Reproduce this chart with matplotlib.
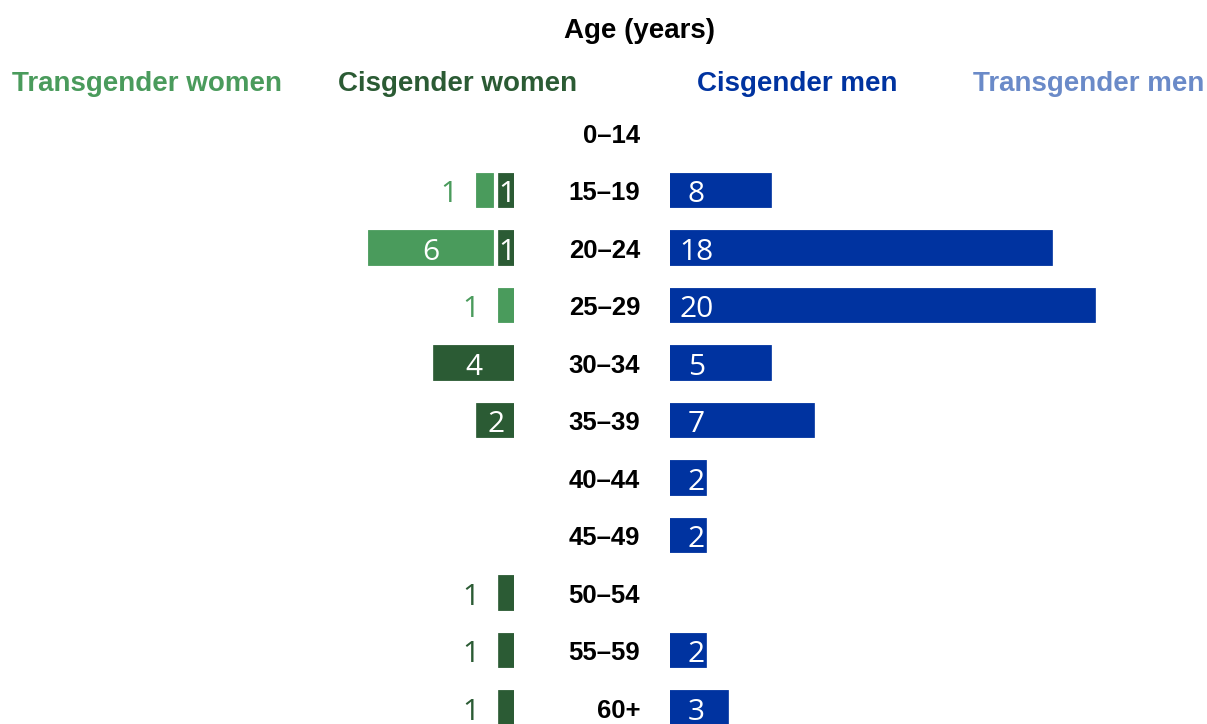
import matplotlib
matplotlib.use("Agg")
import matplotlib.pyplot as plt

ages = ['0–14', '15–19', '20–24', '25–29', '30–34', '35–39',
        '40–44', '45–49', '50–54', '55–59', '60+']
cis_women = [0, 1, 1, 0, 4, 2, 0, 0, 1, 1, 1]
trans_women = [0, 1, 6, 1, 0, 0, 0, 0, 0, 0, 0]
cis_men = [0, 5, 18, 20, 5, 7, 2, 2, 0, 2, 3]          # bar lengths as drawn
cis_men_labels = ['', '8', '18', '20', '5', '7', '2', '2', '', '2', '3']  # printed labels
trans_men = [0, 0, 0, 0, 0, 0, 0, 0, 0, 0, 0]

C_TW = '#4A9B5C'
C_CW = '#2B5B34'
C_CM = '#0033A0'
C_TM = '#6A8AC8'

HEADF = ['Liberation Sans', 'DejaVu Sans']
AGEF = ['Liberation Sans', 'DejaVu Sans']
VALF = ['Open Sans', 'DejaVu Sans']

W, H = 1207, 724
fig = plt.figure(figsize=(W / 100, H / 100), dpi=100)

scale = 21.6          # px per unit
zero_l = 517.3        # px
zero_r = 666.0
clip_l = 514
clip_r = 670
top_px = 104
y0, dy = 133, 57.5
ylo = (top_px - y0) / dy
yhi = (H - y0) / dy

axl = fig.add_axes([0, 0, clip_l / W, (H - top_px) / H])
axr = fig.add_axes([clip_r / W, 0, (W - clip_r) / W, (H - top_px) / H])
axl.set_xlim(zero_l / scale, (zero_l - clip_l) / scale)
axr.set_xlim((clip_r - zero_r) / scale, (W - zero_r) / scale)
for ax in (axl, axr):
    ax.set_ylim(yhi, ylo)
    ax.axis('off')

ys = list(range(len(ages)))
bh = 0.68
lw = 3
axl.barh(ys, cis_women, height=bh, color=C_CW, edgecolor='white', linewidth=lw)
axl.barh(ys, trans_women, left=cis_women, height=bh, color=C_TW, edgecolor='white', linewidth=lw)
axr.barh(ys, cis_men, height=bh, color=C_CM, edgecolor='white', linewidth=lw)
axr.barh(ys, trans_men, left=cis_men, height=bh, color=C_TM, edgecolor='white', linewidth=lw)

vfs = 21.5
off = 1.15
ty = 0.07
vkw = dict(ha='center', va='center', fontsize=vfs, family=VALF, fontweight='normal', clip_on=False)
for i in ys:
    c, t = cis_women[i], trans_women[i]
    if c > 0:
        if c >= 2 or t > 0:
            axl.text(c / 2, i + ty, str(c), color='white', **vkw)
        else:
            axl.text(c + off, i + ty, str(c), color=C_CW, **vkw)
    if t > 0:
        if t >= 2:
            axl.text(c + t / 2, i + ty, str(t), color='white', **vkw)
        else:
            axl.text(c + t + off, i + ty, str(t), color=C_TW, **vkw)
    if cis_men[i] > 0:
        axr.text(1.4, i + ty, cis_men_labels[i], color='white', **vkw)
    axr.text((640 - clip_r) / (W - clip_r), i + 0.05, ages[i], transform=axr.get_yaxis_transform(),
             ha='right', va='center', fontsize=18.5, fontweight='bold', family=AGEF,
             color='black', clip_on=False)

hfs = 20
hkw = dict(va='center', fontsize=hfs, fontweight='bold', family=HEADF)
fig.text(640 / W, 1 - 31 / H, 'Age (years)', ha='center', color='black', **hkw)
fig.text(12 / W, 1 - 84 / H, 'Transgender women', ha='left', color=C_TW, **hkw)
fig.text(577 / W, 1 - 84 / H, 'Cisgender women', ha='right', color=C_CW, **hkw)
fig.text(697 / W, 1 - 84 / H, 'Cisgender men', ha='left', color=C_CM, **hkw)
fig.text(1204 / W, 1 - 84 / H, 'Transgender men', ha='right', color=C_TM, **hkw)

fig.savefig('out.png', dpi=100)
